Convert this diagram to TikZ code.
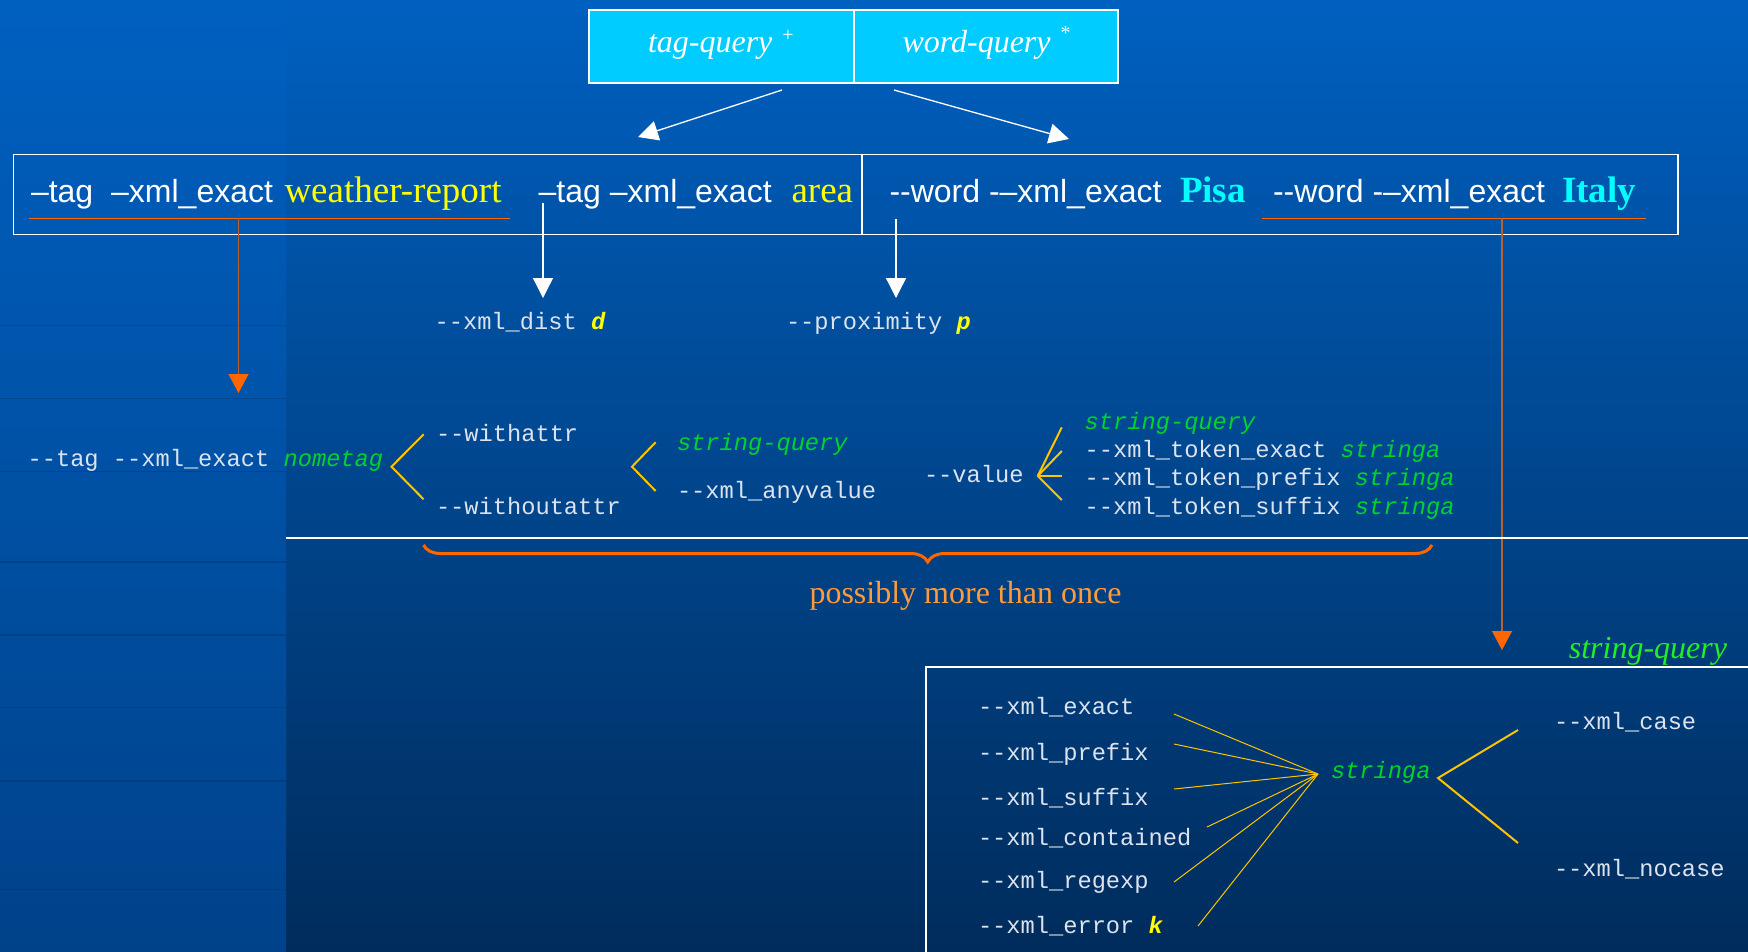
\documentclass[tikz,border=0pt]{standalone}
\usepackage{fontspec}
\setmainfont{Liberation Serif}
\newfontfamily\arialf{Liberation Sans}
\newfontfamily\monof{Liberation Mono}
\usetikzlibrary{arrows.meta,decorations.pathreplacing}

\definecolor{bgtop}{HTML}{0060C0}
\definecolor{bgbot}{HTML}{002C5C}
\definecolor{stripbot}{HTML}{00428A}
\definecolor{cyanbox}{HTML}{00CCFF}
\definecolor{monowhite}{HTML}{DCE3EE}
\definecolor{hiyellow}{HTML}{FFFF00}
\definecolor{hicyan}{HTML}{00FFFF}
\definecolor{monogreen}{HTML}{00D22D}
\definecolor{brightgreen}{HTML}{22EE22}
\definecolor{branch}{HTML}{FFC400}
\definecolor{accent}{HTML}{FF6600}
\definecolor{stem}{HTML}{B8602E}
\definecolor{notecol}{HTML}{FF9A3A}

\newcommand{\dd}{-{}-}
\newcommand{\gi}[1]{\textcolor{monogreen}{\itshape #1}}
\newcommand{\yb}[1]{\textcolor{hiyellow}{\bfseries\itshape #1}}

\tikzset{
  every node/.style={inner sep=0pt, outer sep=0pt},
  mono/.style={font=\monof\fontsize{23.7}{28}\selectfont, text=monowhite, anchor=mid west, yshift=-4.5pt},
  cmd/.style={font=\arialf\fontsize{32}{38}\selectfont, text=white, anchor=base west},
  arg/.style={font=\fontsize{37}{42}\selectfont, text=hiyellow, anchor=base west},
  argb/.style={font=\bfseries\fontsize{37}{42}\selectfont, text=hicyan, anchor=base west},
  headtext/.style={font=\itshape\fontsize{32}{36}\selectfont, text=white, anchor=base west},
  cell/.style={draw=white, line width=1.8pt, fill=cyanbox, rectangle},
  frame/.style={draw=white, line width=1.6pt, rectangle},
  whitearrow/.style={draw=white, line width=1.3pt, -{Triangle[length=20pt,width=20pt]}},
  orangearrow/.style={draw=stem, line width=1.3pt, -{Triangle[length=19pt,width=20pt,color=accent]}},
  underline/.style={draw=accent, line width=1.4pt},
  branchline/.style={draw=branch, line width=2pt},
  fanline/.style={draw=branch, line width=1pt},
  stripsep/.style={draw=black, draw opacity=0.13, line width=1.4pt},
}

\begin{document}
\begin{tikzpicture}[x=1pt,y=-1pt]
\useasboundingbox (0,0) rectangle (1748,951);

% background and left panel
\shade[top color=bgtop, bottom color=bgbot] (0,0) rectangle (1748,951);
\shade[top color=bgtop, bottom color=stripbot] (0,0) rectangle (286,951);
\foreach \yy in {325.6,398.4,471.2,562,635,707.7,781,889.6}
  \draw[stripsep] (0,\yy) -- (286,\yy);

% query header
\node[cell, minimum width=265pt, minimum height=73pt] (tagq) at (721.5,46.5) {};
\node[cell, minimum width=264pt, minimum height=73pt] (wordq) at (986,46.5) {};
\node[headtext] (tagqt) at (648,52) {tag-query\hspace{10pt}\raisebox{11pt}{\upshape\fontsize{20}{20}\selectfont +}};
\node[headtext] (wordqt) at (902.5,52) {word-query\hspace{10pt}\raisebox{13pt}{\upshape\fontsize{20}{20}\selectfont *}};

\coordinate (tq-out) at (782,90);
\coordinate (tq-in) at (638,137);
\coordinate (wq-out) at (894,90);
\coordinate (wq-in) at (1069,139);
\draw[whitearrow] (tq-out) -- (tq-in);
\draw[whitearrow] (wq-out) -- (wq-in);

% command line
\node[frame, minimum width=848.5pt, minimum height=80pt] (tagline) at (437.75,194.3) {};
\node[frame, minimum width=815.7pt, minimum height=80pt] (wordline) at (1269.85,194.3) {};

\node[cmd] (c1) at (31,202) {–tag\hspace{9pt} –xml\_exact};
\node[arg] (a1) at (284.5,202) {weather-report};
\node[cmd] (c2) at (538.7,202) {–tag –xml\_exact};
\node[arg] (a2) at (791.5,202) {area};
\node[cmd] (c3) at (889.5,202) {\dd word -–xml\_exact};
\node[argb] (a3) at (1180,202) {Pisa};
\node[cmd] (c4) at (1273,202) {\dd word -–xml\_exact};
\node[argb] (a4) at (1562,202) {Italy};

\draw[underline] (29,218.3) -- (509.5,218.3);
\draw[underline] (1262,218.3) -- (1646,218.3);

% options below the command line
\node[mono] (dist) at (434.6,322.7) {\dd xml\_dist \yb{d}};
\node[mono] (prox) at (786,323) {\dd proximity \yb{p}};

\coordinate (c2-stem) at (543,203);
\coordinate (dist-in) at (543,298);
\coordinate (c3-stem) at (896,219);
\coordinate (prox-in) at (896,298);
\draw[whitearrow] (c2-stem) -- (dist-in);
\draw[whitearrow] (c3-stem) -- (prox-in);

\coordinate (u1-stem) at (238.5,218.3);
\coordinate (tag-in) at (238.5,393);
\coordinate (u4-stem) at (1502,218.3);
\coordinate (sq-in) at (1502,650);
\draw[orangearrow] (u1-stem) -- (tag-in);
\draw[orangearrow] (u4-stem) -- (sq-in);

% tag options
\node[mono] (tagopt) at (27.6,460) {\dd tag \dd xml\_exact \gi{nometag}};
\node[mono] (withattr) at (436,435) {\dd withattr};
\node[mono] (withoutattr) at (436,508) {\dd withoutattr};
\node[mono] (sq1) at (677,444) {\gi{string-query}};
\node[mono] (anyval) at (677,491.7) {\dd xml\_anyvalue};
\node[mono] (value) at (924,476) {\dd value};
\node[mono] (sq2) at (1084.7,422.3) {\gi{string-query}};
\node[mono] (tokex) at (1084.7,450.7) {\dd xml\_token\_exact \gi{stringa}};
\node[mono] (tokpre) at (1084.7,479) {\dd xml\_token\_prefix \gi{stringa}};
\node[mono] (toksuf) at (1084.7,508) {\dd xml\_token\_suffix \gi{stringa}};

\draw[branchline] (423.6,434.3) -- (391.5,466.7) -- (423.6,499.3);
\draw[branchline] (655.6,442.3) -- (632,466.7) -- (655.6,491);
\coordinate (vfan) at (1037.7,476);
\foreach \yy in {427.3,451,476,500}
  \draw[branchline] (vfan) -- (1061.8,\yy);

\draw[draw=white, line width=2pt] (286,538.3) -- (1748,538.3);

\draw[accent, line width=3pt, decorate, decoration={brace, mirror, amplitude=17pt}]
  (423.5,545) -- (1432,545);
\node[font=\fontsize{32}{36}\selectfont, text=notecol, anchor=base] (note) at (965.5,603) {possibly more than once};

% string-query panel
\node[font=\itshape\fontsize{32}{36}\selectfont, text=brightgreen, anchor=base east] (sqtitle) at (1727,658) {string-query};
\draw[draw=white, line width=2.5pt] (1760,667) -- (926,667) -- (926,960);

\node[mono] (mexact) at (978,708) {\dd xml\_exact};
\node[mono] (mprefix) at (978,754) {\dd xml\_prefix};
\node[mono] (msuffix) at (978,799) {\dd xml\_suffix};
\node[mono] (mcont) at (978,839) {\dd xml\_contained};
\node[mono] (mregexp) at (978,882) {\dd xml\_regexp};
\node[mono] (merror) at (978,927) {\dd xml\_error \yb{k}};
\node[mono] (stringa) at (1331,772) {\gi{stringa}};
\node[mono] (mcase) at (1554,723) {\dd xml\_case};
\node[mono] (mnocase) at (1554,870) {\dd xml\_nocase};

\coordinate (hub) at (1318,774);
\foreach \p in {(1174,714),(1174,744),(1174,789),(1207,827),(1174,882),(1198,926)}
  \draw[fanline] \p -- (hub);
\draw[branchline] (1518,730) -- (1438,778) -- (1518,843);

\end{tikzpicture}
\end{document}
